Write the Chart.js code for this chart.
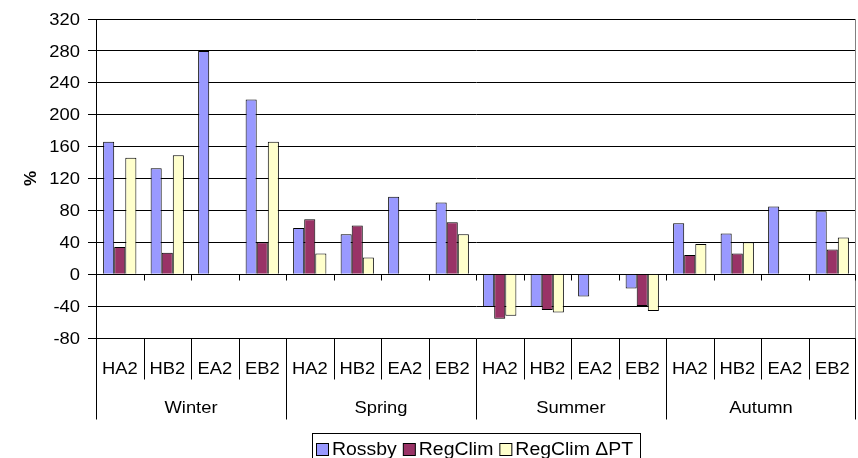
<!DOCTYPE html>
<html>
<head>
<meta charset="utf-8">
<style>
  html, body { margin: 0; padding: 0; background: #fff; }
  canvas { display: block; }
</style>
<script src="https://cdn.jsdelivr.net/npm/chart.js@4.4.1/dist/chart.umd.min.js"></script>
</head>
<body>
<canvas id="myChart" width="858" height="458"></canvas>
<script>
// scenario / season labels
var scenarios = ['HA2', 'HB2', 'EA2', 'EB2'];
var seasons = ['Winter', 'Spring', 'Summer', 'Autumn'];

// change in %, one value per season x scenario (EA2 only has Rossby)
var rossby    = [166, 133, 280, 219,  58, 50, 97, 90,  -41, -41, -28, -18,  64, 51, 85, 79];
var regclim   = [ 34,  27, null, 40,  69, 61, null, 65,  -56, -45, null, -40,  24, 26, null, 31];
var regclimPT = [146, 149, null, 166, 26, 21, null, 50,  -52, -48, null, -46,  38, 40, null, 46];

var yTicks = [-80, -40, 0, 40, 80, 120, 160, 200, 240, 280, 320];

var labels = [];
seasons.forEach(function (s) {
    scenarios.forEach(function (sc) { labels.push(sc); });
});

var font = '"Liberation Sans", Arial, sans-serif';
var stretch = 1.08;

// text a bit wider than the font's own proportions
function wideText(ctx, text, x, y, align) {
    ctx.save();
    ctx.translate(x, y);
    ctx.scale(stretch, 1);
    ctx.textAlign = align;
    ctx.fillText(text, 0, 0);
    ctx.restore();
}

// tick labels, category labels, season labels, dividers, axis title and legend
var decorations = {
    id: 'decorations',
    afterDraw: function (chart) {
        var ctx = chart.ctx;
        var area = chart.chartArea;
        var y = chart.scales.y;
        var n = labels.length;
        var w = (area.right - area.left) / n;
        var y0 = Math.round(y.getPixelForValue(0)) + 0.5;
        var bottom = Math.round(area.bottom) + 0.5;

        ctx.save();
        ctx.lineWidth = 1;

        // right border of plot
        ctx.strokeStyle = '#808080';
        ctx.beginPath();
        ctx.moveTo(Math.round(area.right) - 0.5, Math.round(area.top));
        ctx.lineTo(Math.round(area.right) - 0.5, bottom);
        ctx.stroke();

        ctx.strokeStyle = '#000';
        ctx.beginPath();
        for (var k = 0; k <= n; k++) {
            var x = Math.round(area.left + k * w) + 0.5;
            if (k === n) x -= 1;
            // tick marks on the zero line
            if (k > 0) {
                ctx.moveTo(x, y0);
                ctx.lineTo(x, y0 + 6);
            }
            // dividers under the plot
            ctx.moveTo(x, bottom);
            ctx.lineTo(x, k % 4 === 0 ? bottom + 81 : bottom + 41);
        }
        ctx.stroke();

        ctx.fillStyle = '#000';
        ctx.textBaseline = 'middle';
        ctx.font = '17px ' + font;

        yTicks.forEach(function (v) {
            wideText(ctx, String(v), area.left - 16, y.getPixelForValue(v) + 1, 'right');
        });
        labels.forEach(function (l, i) {
            wideText(ctx, l, area.left + (i + 0.5) * w, bottom + 31, 'center');
        });
        seasons.forEach(function (s, i) {
            wideText(ctx, s, area.left + (i * 4 + 2) * w, bottom + 70, 'center');
        });

        // y axis title
        ctx.save();
        ctx.translate(31, (area.top + area.bottom) / 2);
        ctx.rotate(-Math.PI / 2);
        ctx.font = 'bold 17px ' + font;
        ctx.textAlign = 'center';
        ctx.fillText('%', 0, 0);
        ctx.restore();

        // legend
        var lx = 312, ly = 433, lw = 328, lh = 30;
        ctx.strokeStyle = '#000';
        ctx.strokeRect(lx + 0.5, ly + 0.5, lw, lh);
        ctx.font = '18px ' + font;
        var cx = lx + 4;
        var cy = ly + 16;
        chart.data.datasets.forEach(function (ds) {
            ctx.fillStyle = ds.backgroundColor;
            ctx.fillRect(cx + 0.5, cy - 6 + 0.5, 12, 12);
            ctx.strokeStyle = '#000';
            ctx.strokeRect(cx + 0.5, cy - 6 + 0.5, 12, 12);
            ctx.fillStyle = '#000';
            wideText(ctx, ds.label, cx + 16, cy + 1, 'left');
            cx += 16 + ctx.measureText(ds.label).width * stretch + 6;
        });
        ctx.restore();
    }
};

var ctx = document.getElementById('myChart').getContext('2d');
var myChart = new Chart(ctx, {
    type: 'bar',
    data: {
        labels: labels,
        datasets: [
            {
                label: 'Rossby',
                data: rossby,
                backgroundColor: '#9999FF',
                borderColor: '#000',
                borderWidth: 1
            },
            {
                label: 'RegClim',
                data: regclim,
                backgroundColor: '#993366',
                borderColor: '#000',
                borderWidth: 1
            },
            {
                label: 'RegClim \u0394PT',
                data: regclimPT,
                backgroundColor: '#FFFFCC',
                borderColor: '#000',
                borderWidth: 1
            }
        ]
    },
    options: {
        responsive: false,
        animation: false,
        layout: { padding: { left: 0, right: 2, top: 19, bottom: 120 } },
        plugins: {
            legend: { display: false },
            tooltip: { enabled: false }
        },
        datasets: {
            bar: { categoryPercentage: 0.7, barPercentage: 1.0 }
        },
        scales: {
            x: {
                display: false
            },
            y: {
                min: -80,
                max: 320,
                afterBuildTicks: function (scale) {
                    scale.ticks = yTicks.map(function (v) { return { value: v }; });
                },
                afterFit: function (scale) { scale.width = 96; },
                grid: { color: '#000', lineWidth: 1, tickLength: 8 },
                border: { color: '#000' },
                ticks: { display: false }
            }
        }
    },
    plugins: [decorations]
});
</script>
</body>
</html>
